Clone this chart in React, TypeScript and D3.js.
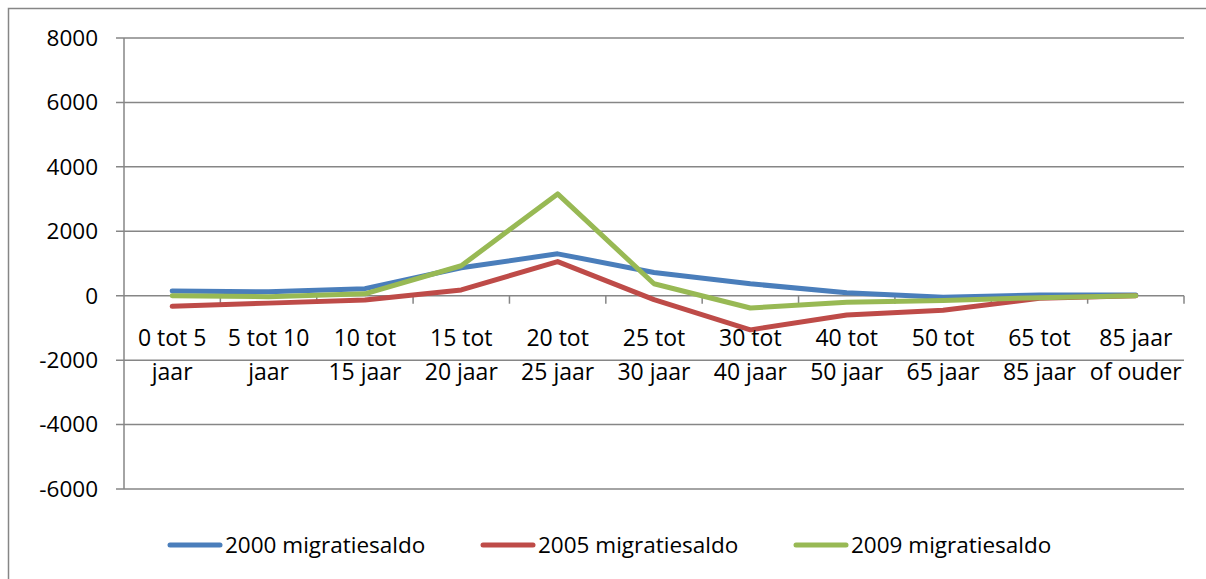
import React from "react";
import { scaleBand, scaleLinear, line } from "d3";

const categories = [
  ["0 tot 5", "jaar"],
  ["5 tot 10", "jaar"],
  ["10 tot", "15 jaar"],
  ["15 tot", "20 jaar"],
  ["20 tot", "25 jaar"],
  ["25 tot", "30 jaar"],
  ["30 tot", "40 jaar"],
  ["40 tot", "50 jaar"],
  ["50 tot", "65 jaar"],
  ["65 tot", "85 jaar"],
  ["85 jaar", "of ouder"],
];

const saldo2000 = [150, 120, 220, 870, 1300, 720, 370, 90, -50, 20, 20];
const saldo2005 = [-330, -230, -130, 180, 1060, -120, -1060, -600, -450, -80, 0];
const saldo2009 = [0, -30, 60, 930, 3160, 370, -380, -200, -150, -60, 0];

const yTicks = [-6000, -4000, -2000, 0, 2000, 4000, 6000, 8000];

const series = [
  { name: "2000 migratiesaldo", values: saldo2000, color: "#4a7ebb" },
  { name: "2005 migratiesaldo", values: saldo2005, color: "#be4b48" },
  { name: "2009 migratiesaldo", values: saldo2009, color: "#98b954" },
];

const W = 1206;
const H = 579;
const left = 124;
const right = 1184;
const top = 38;
const bottom = 489;
const font = "'Open Sans', sans-serif";
const grid = "#868686";

export default function App() {
  const keys = categories.map((c) => c.join(" "));
  const x = scaleBand().domain(keys).range([left, right]);
  const y = scaleLinear().domain([-6000, 8000]).range([bottom, top]);

  const path = line<number>()
    .x((_, i) => x(keys[i])! + x.bandwidth() / 2)
    .y((d) => y(d));

  const legendX = scaleLinear().domain([0, 1]).range([168, 481]);

  return (
    <svg
      width={W}
      height={H}
      style={{ position: "absolute", left: 0, top: 0, background: "#fff" }}
    >
      <rect x={8.5} y={8.5} width={W + 20} height={H + 20} fill="#fff" stroke={grid} strokeWidth={1.5} />

      {yTicks.map((t) => (
        <g key={t}>
          <line x1={left - 8} x2={right} y1={y(t)} y2={y(t)} stroke={grid} strokeWidth={1.5} />
          <text x={98} y={y(t)} dy="0.35em" textAnchor="end" fontFamily={font} fontSize={22.5} fill="#000">
            {t}
          </text>
        </g>
      ))}

      <line x1={left} x2={left} y1={top} y2={bottom} stroke={grid} strokeWidth={1.5} />

      {keys.map((k) => (
        <line key={k} x1={x(k)! + x.bandwidth()} x2={x(k)! + x.bandwidth()} y1={y(0)} y2={y(0) + 8} stroke={grid} strokeWidth={1.5} />
      ))}

      {series.map((s) => (
        <path key={s.name} d={path(s.values)!} fill="none" stroke={s.color} strokeWidth={5} strokeLinejoin="round" strokeLinecap="round" />
      ))}

      {categories.map((c, i) => (
        <text key={i} x={x(keys[i])! + x.bandwidth() / 2} textAnchor="middle" fontFamily={font} fontSize={23} fill="#000">
          <tspan x={x(keys[i])! + x.bandwidth() / 2} y={346}>{c[0]}</tspan>
          <tspan x={x(keys[i])! + x.bandwidth() / 2} y={380}>{c[1]}</tspan>
        </text>
      ))}

      {series.map((s, i) => (
        <g key={s.name} transform={`translate(${legendX(i)},545)`}>
          <line x1={2} x2={52} y1={0} y2={0} stroke={s.color} strokeWidth={5} strokeLinecap="round" />
          <text x={57} y={0} dy="0.35em" fontFamily={font} fontSize={22.5} fill="#000">
            {s.name}
          </text>
        </g>
      ))}
    </svg>
  );
}
